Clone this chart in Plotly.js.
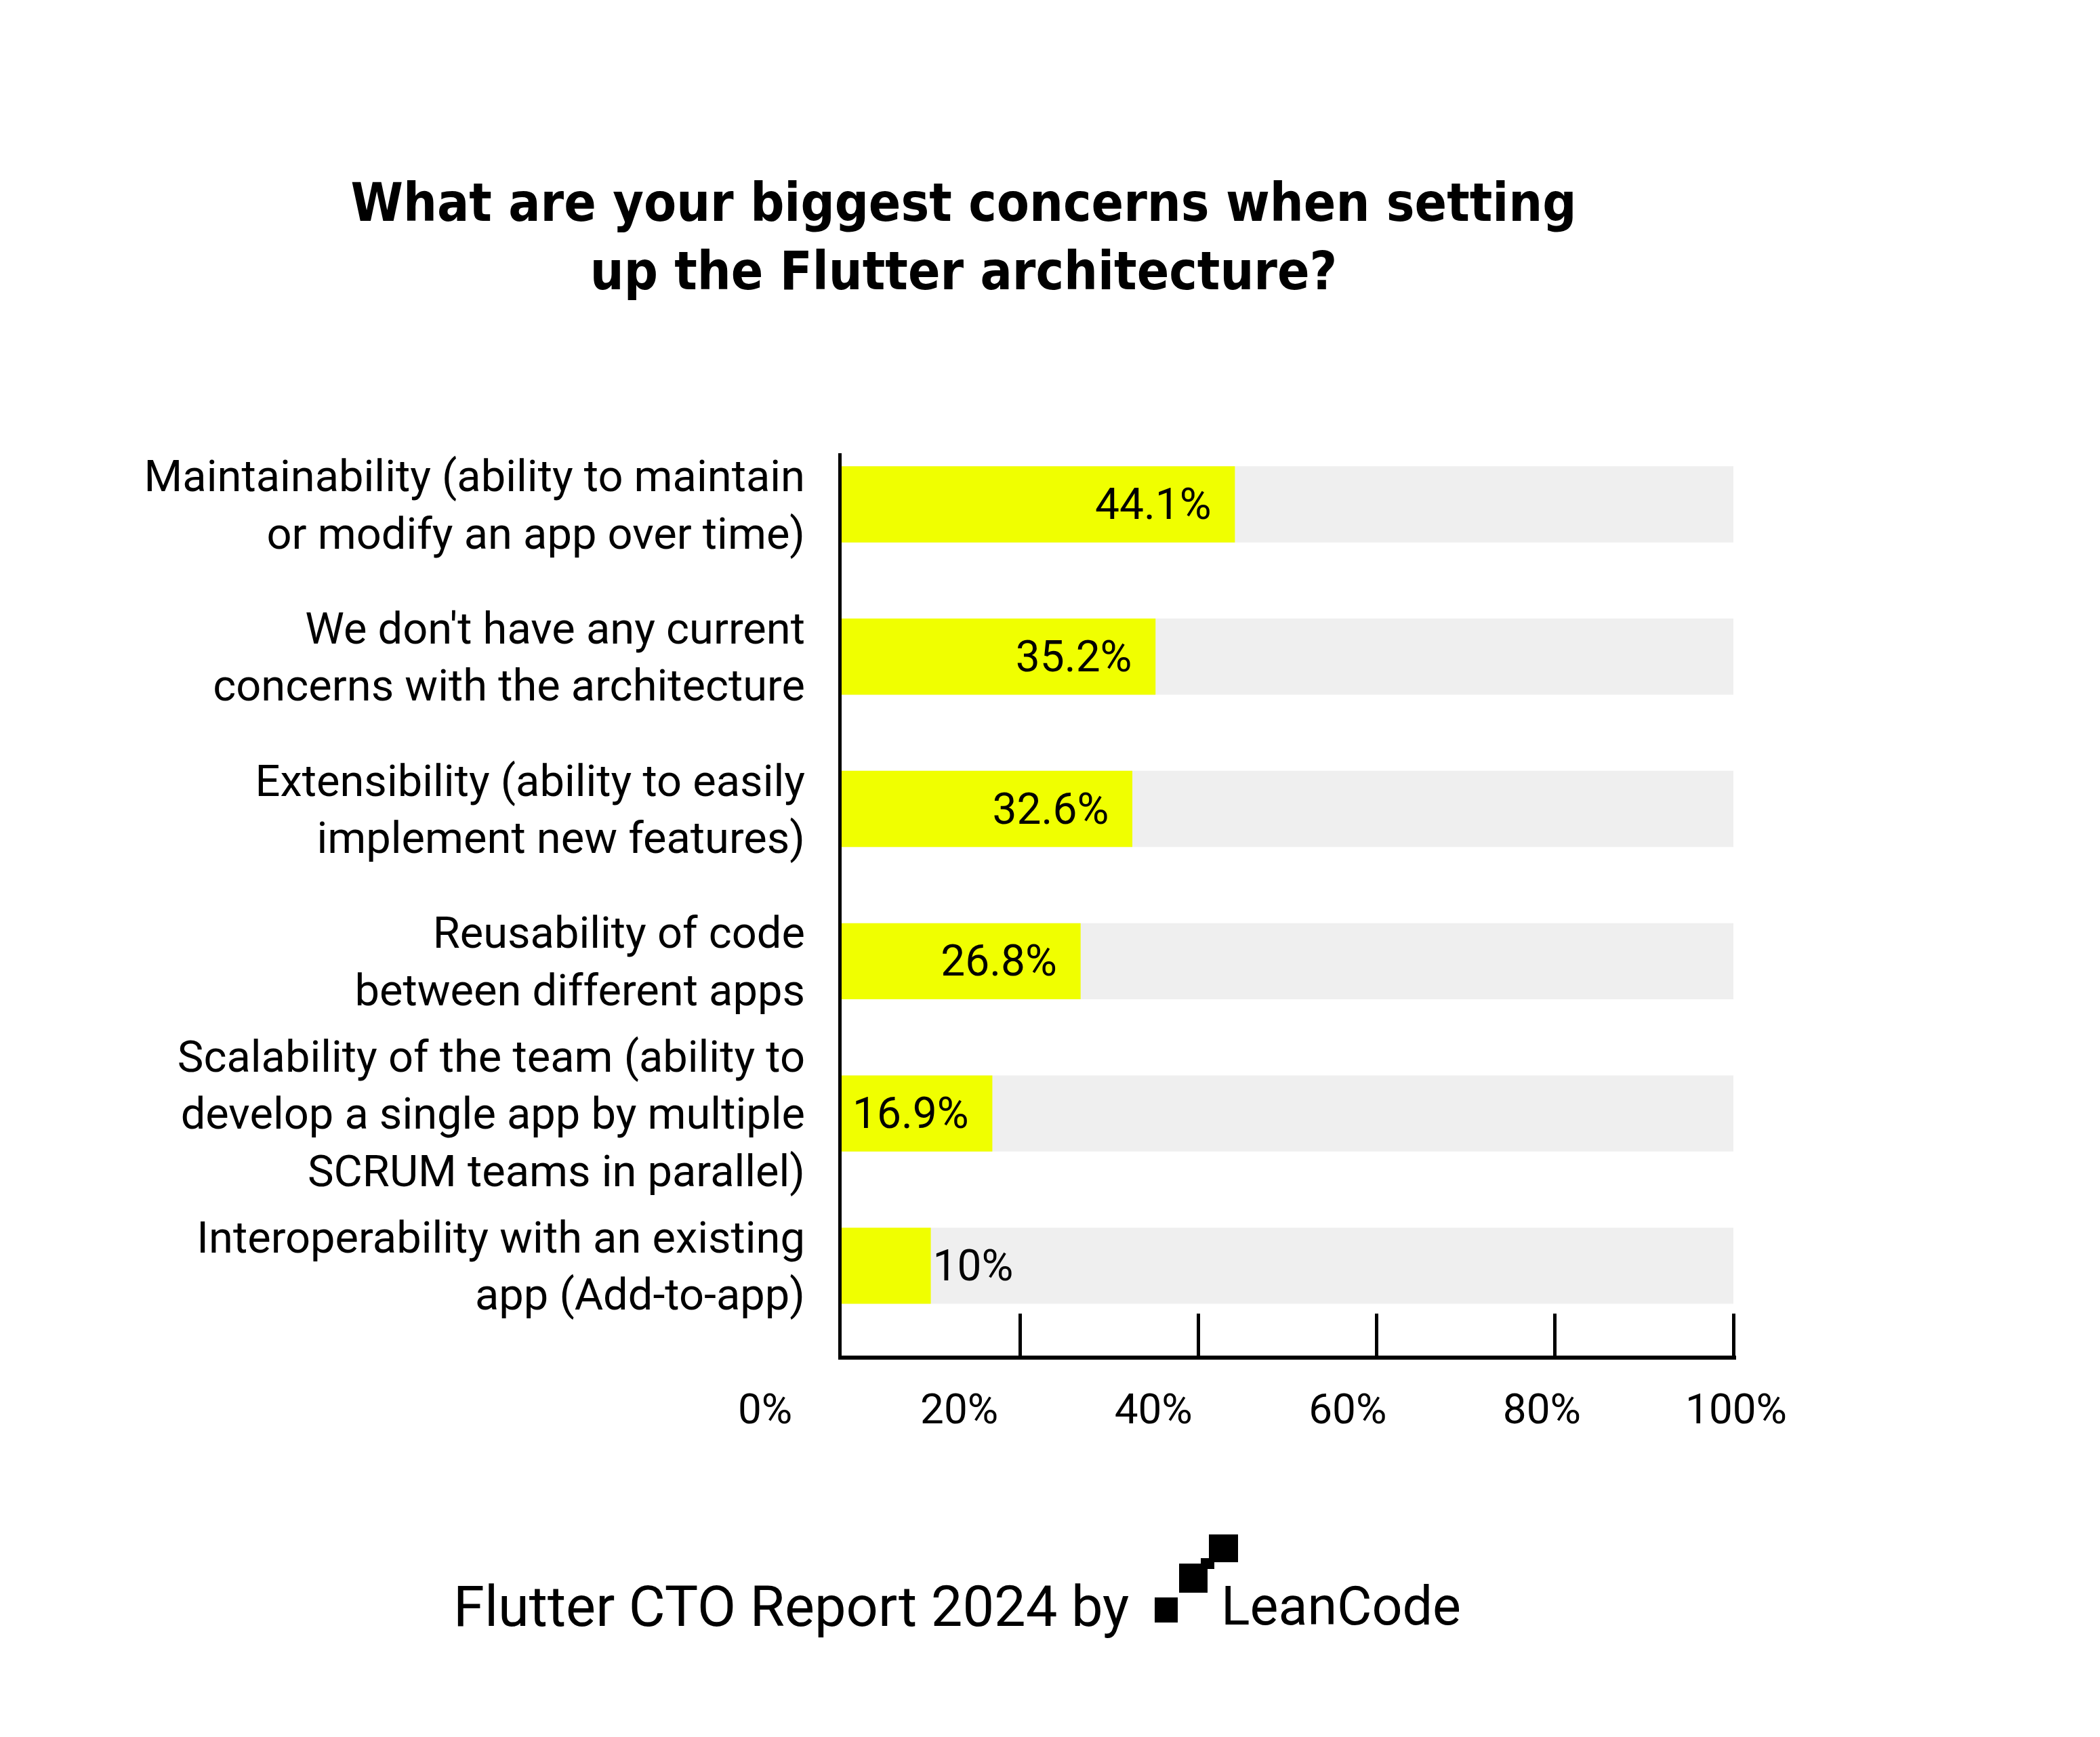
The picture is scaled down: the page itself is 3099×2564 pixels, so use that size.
<!DOCTYPE html>
<html>
<head>
<meta charset="utf-8">
<script src="https://cdn.plot.ly/plotly-3.0.1.min.js"></script>
<style>
  html, body { margin: 0; padding: 0; background: #ffffff; }
  #chart { width: 3099px; height: 2564px; }
</style>
</head>
<body>
<div id="chart"></div>
<script>
// ---- data ----
const categories = [
  "Maintainability (ability to maintain<br>or modify an app over time)",
  "We don't have any current<br>concerns with the architecture",
  "Extensibility (ability to easily<br>implement new features)",
  "Reusability of code<br>between different apps",
  "Scalability of the team (ability to<br>develop a single app by multiple<br>SCRUM teams in parallel)",
  "Interoperability with an existing<br>app (Add-to-app)"
];
const shares = [44.1, 35.2, 32.6, 26.8, 16.9, 10];
const trackFull = [100, 100, 100, 100, 100, 100];
const tickValues = [0, 20, 40, 60, 80, 100];
const tickLabels = ["0%", "20%", "40%", "60%", "80%", "100%"];
const titleText = "What are your biggest concerns when setting<br>up the Flutter architecture?";
const footerText = "Flutter CTO Report 2024 by";
const brandText = "LeanCode";

// ---- layout helpers (page pixels -> paper fractions) ----
const W = 3099, H = 2564;
const px = v => v / W;
const py = v => 1 - v / H;

const bodyFont = "Roboto, 'Liberation Sans', sans-serif";
const titleFont = "'Liberation Sans Narrow', 'DejaVu Sans Condensed', 'Liberation Sans', sans-serif";

const traces = [
  {
    type: 'bar', orientation: 'h',
    y: categories, x: trackFull,
    marker: { color: '#efefef' },
    hoverinfo: 'skip', showlegend: false
  },
  {
    type: 'bar', orientation: 'h',
    y: categories, x: shares,
    marker: { color: '#f0ff00' },
    text: shares.map(v => v + '%\u00a0\u00a0'),
    texttemplate: '%{text}',
    textposition: 'auto',
    insidetextanchor: 'end',
    constraintext: 'none',
    textfont: { family: bodyFont, size: 64, color: '#000000' },
    insidetextfont: { family: bodyFont, size: 64, color: '#000000' },
    outsidetextfont: { family: bodyFont, size: 64, color: '#000000' },
    cliponaxis: false,
    hoverinfo: 'skip', showlegend: false
  },
  {
    // invisible carrier so the percentage label axis (x2) is drawn
    type: 'scatter', mode: 'markers',
    x: tickValues, y: tickValues.map(() => categories[0]),
    xaxis: 'x2', yaxis: 'y',
    marker: { opacity: 0, size: 1 },
    hoverinfo: 'skip', showlegend: false
  }
];

function logoRect(x0, y0, x1, y1) {
  return { type: 'rect', xref: 'paper', yref: 'paper',
    x0: px(x0), x1: px(x1), y0: py(y1), y1: py(y0),
    fillcolor: '#000000', line: { width: 0 } };
}

const layout = {
  width: W, height: H,
  paper_bgcolor: '#ffffff',
  plot_bgcolor: 'rgba(0,0,0,0)',
  margin: { l: 0, r: 0, t: 0, b: 0, pad: 0 },
  barmode: 'overlay',
  bargap: 0.5,
  showlegend: false,
  title: {
    text: titleText,
    font: { family: titleFont, size: 78, color: '#000000', weight: 700 },
    x: 1422 / W, xanchor: 'center', xref: 'container',
    y: 1 - 326 / H, yanchor: 'top', yref: 'container'
  },
  xaxis: {
    domain: [px(1242), px(1242 + 1316 * 1.003)],
    range: [0, 100.3],
    tickvals: tickValues,
    ticks: 'inside', ticklen: 62, tickwidth: 5, tickcolor: '#000000',
    showticklabels: false,
    showline: true, linewidth: 6, linecolor: '#000000',
    showgrid: false, zeroline: false, fixedrange: true
  },
  xaxis2: {
    domain: [px(1129), px(2562)],
    range: [0, 100],
    anchor: 'y',
    tickvals: tickValues, ticktext: tickLabels,
    tickfont: { family: bodyFont, size: 62, color: '#000000' },
    ticks: '', showline: false, showgrid: false, zeroline: false,
    ticklabelstandoff: 37,
    fixedrange: true
  },
  yaxis: {
    domain: [py(2001), py(669)],
    type: 'category',
    range: [5.59, -0.336],
    tickfont: { family: bodyFont, size: 65, color: '#000000' },
    ticks: '', ticklabelstandoff: 36,
    showline: true, linewidth: 5, linecolor: '#000000',
    showgrid: false, zeroline: false, fixedrange: true
  },
  annotations: [
    { text: footerText, xref: 'paper', yref: 'paper',
      x: px(1668), xanchor: 'right', y: py(2371), yanchor: 'middle',
      showarrow: false, font: { family: bodyFont, size: 83, color: '#000000' } },
    { text: brandText, xref: 'paper', yref: 'paper',
      x: px(1800), xanchor: 'left', y: py(2371), yanchor: 'middle',
      showarrow: false, font: { family: bodyFont, size: 79, color: '#000000' } }
  ],
  shapes: [
    logoRect(1704, 2358, 1738, 2395),
    logoRect(1740, 2308, 1782, 2351),
    logoRect(1784, 2265, 1827, 2306),
    logoRect(1772, 2300, 1792, 2316)
  ]
};

Plotly.newPlot('chart', traces, layout, { staticPlot: true, displayModeBar: false });
</script>
</body>
</html>
